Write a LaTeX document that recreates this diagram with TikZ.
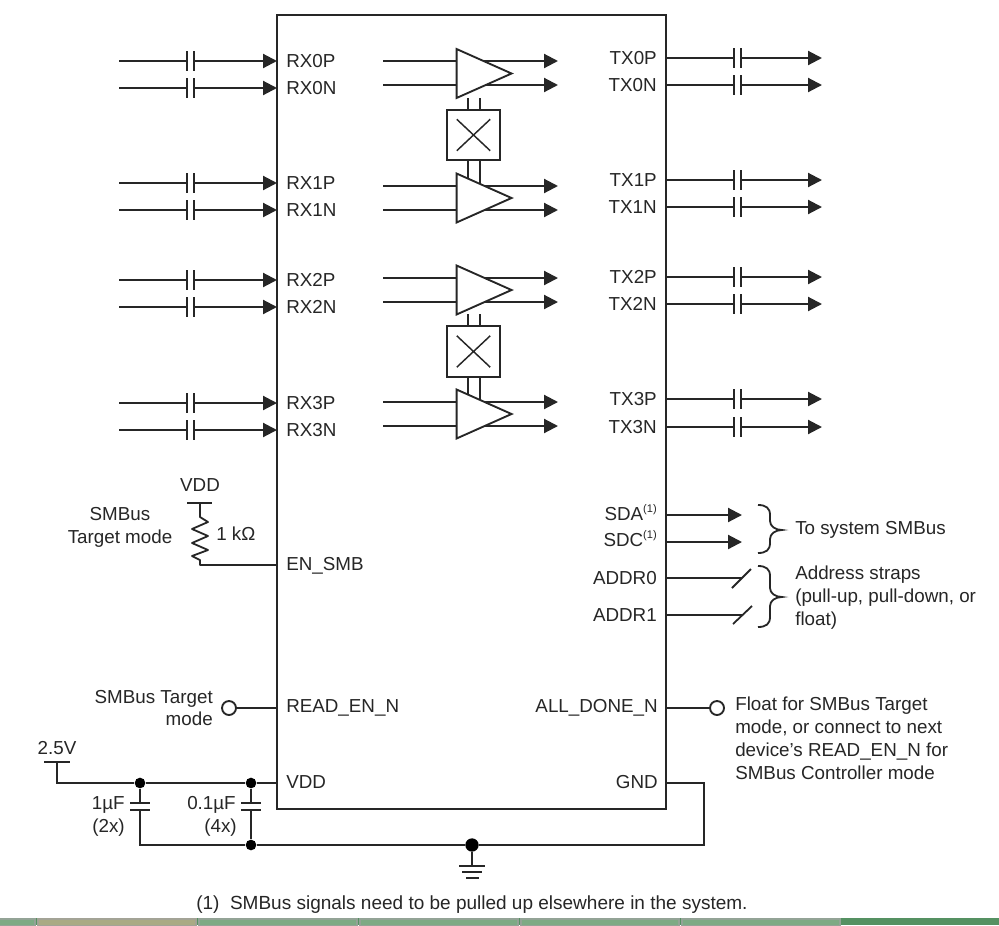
\documentclass[tikz,border=0pt]{standalone}
\usepackage{fontspec}
\setmainfont{Liberation Sans}
\usetikzlibrary{arrows.meta,shapes.geometric,shapes.misc}
\tikzset{
	wire/.style={line width=1.6pt, draw=black!85},
	thinwire/.style={line width=1.35pt, draw=black!85},
	sig/.style={wire, -{Triangle[length=10.5pt,width=10.5pt]}},
	txt/.style={font=\fontsize{14.1}{17.2}\selectfont, text=black!85, inner sep=0pt},
	lbl/.style={txt, anchor=base west},
	rlbl/.style={txt, anchor=base east},
	buffer/.style={isosceles triangle, isosceles triangle stretches, draw=black!85, fill=white, line width=1.4pt, inner sep=0pt, minimum width=36.75pt, minimum height=41.25pt, anchor=apex},
	crossbox/.style={rectangle, draw=black!85, fill=white, line width=1.5pt, inner sep=0pt, minimum width=39.75pt, minimum height=38pt},
	crossmark/.style={cross out, draw=black!85, line width=1.1pt, inner sep=0pt, minimum width=24pt, minimum height=22.5pt},
	dot/.style={circle, fill=black, inner sep=0pt, minimum size=8pt},
	opening/.style={circle, draw=black!85, fill=white, line width=1.4pt, inner sep=0pt, minimum size=10.5pt},
	tab/.style={draw=#1!60!black!60!white, line width=.8pt, fill=#1}
}
\newcommand{\noteref}{\raisebox{5.5pt}{\fontsize{8.3}{9}\selectfont(1)}}
\definecolor{barbase}{RGB}{85,145,98}
\definecolor{tabgreen}{RGB}{125,170,132}
\definecolor{tabsand}{RGB}{170,170,132}
\begin{document}
\begin{tikzpicture}[x=.75pt, y=-.75pt]
	\useasboundingbox (0,0) rectangle (999,925);
	\fill[white] (0,0) rectangle (999,925);
	\fill[barbase] (0,918) rectangle (999,925);
	\draw[tab=tabgreen] (-3,919) rectangle (35,926);
	\draw[tab=tabsand] (38,919) rectangle (196,926);
	\foreach \i/\j in {199/357,360/518,521/679,682/840} {
		\draw[tab=tabgreen] (\i,919) rectangle (\j,926);
	}

	\draw[line width=1.7pt, draw=black!85] (277,15) rectangle (666,809);

	\foreach \lane/\rxp/\rxn/\txp/\txn/\bufy in {0/61/88/58/85/73, 1/183/210/180/207/198, 2/280/307/277/304/290, 3/403/430/399/427/414} {
		\foreach \pol/\ry/\ty/\by/\lab in {P/\rxp/\txp/-12/P, N/\rxn/\txn/12/N} {
			\coordinate (rxs\lane\pol) at (119,\ry);
			\coordinate (rxa\lane\pol) at (187,\ry);
			\coordinate (rxb\lane\pol) at (194,\ry);
			\coordinate (rxe\lane\pol) at (277,\ry);
			\coordinate (txs\lane\pol) at (666,\ty);
			\coordinate (txa\lane\pol) at (734,\ty);
			\coordinate (txb\lane\pol) at (741,\ty);
			\coordinate (txe\lane\pol) at (822,\ty);
			\draw[wire] (rxs\lane\pol) -- (rxa\lane\pol);
			\draw[sig] (rxb\lane\pol) -- (rxe\lane\pol);
			\draw[wire] (txs\lane\pol) -- (txa\lane\pol);
			\draw[sig] (txb\lane\pol) -- (txe\lane\pol);
			\draw[wire] (187,\ry-10) -- (187,\ry+10);
			\draw[wire] (194,\ry-10) -- (194,\ry+10);
			\draw[wire] (734,\ty-10) -- (734,\ty+10);
			\draw[wire] (741,\ty-10) -- (741,\ty+10);
			\node[lbl] (rxl\lane\pol) at (286,\ry+6) {RX\lane\lab};
			\node[rlbl] (txl\lane\pol) at (657,\ty+6) {TX\lane\lab};
			\coordinate (bi\lane\pol) at (383,\bufy+\by);
			\coordinate (bo\lane\pol) at (558,\bufy+\by);
			\draw[sig] (bi\lane\pol) -- (bo\lane\pol);
		}
	}

	\foreach \a/\b in {98/110, 160/173, 314/326, 377/390} {
		\draw[wire] (468,\a) -- (468,\b+22);
		\draw[wire] (480,\a) -- (480,\b+12);
	}
	\foreach \i/\j in {0/73.5, 1/198, 2/290, 3/414} {
		\node[buffer] (buf\i) at (514,\j) {};
	}
	\foreach \i/\j in {0/135, 1/351.5} {
		\node[crossbox] (cross\i) at (473.5,\j) {};
		\node[crossmark] (xmark\i) at (473.5,\j) {};
	}

	\node[txt, anchor=base] (vddtop) at (200,491) {VDD};
	\node[txt, align=center] (smbtarget) at (120,527) {SMBus\\Target mode};
	\node[lbl] (onek) at (216,540) {1 kΩ};
	\coordinate (vddbar) at (200,503);
	\coordinate (enpin) at (277,565);
	\draw[wire] (187,503) -- (212,503);
	\draw[thinwire, line join=round] (vddbar) -- (200,517) -- (208,522) -- (192,529) -- (208,536) -- (192,543) -- (208,550) -- (192,556) -- (200,560) -- (200,565) -- (enpin);
	\node[lbl] (enlab) at (286,570) {EN\_SMB};

	\node[txt, align=right, anchor=east] (rdtext) at (213,708) {SMBus Target\\mode};
	\node[opening] (rdopen) at (229,708) {};
	\coordinate (rdpin) at (277,708);
	\draw[thinwire] (rdopen) -- (rdpin);
	\node[lbl] (rdlab) at (286,712) {READ\_EN\_N};

	\node[txt, anchor=base] (vin) at (57,754) {2.5V};
	\coordinate (vinbar) at (57,762);
	\coordinate (vddpin) at (277,783);
	\node[dot] (ca) at (140,783) {};
	\node[dot] (cb) at (251,783) {};
	\node[dot] (cc) at (251,845) {};
	\node[dot, minimum size=10pt] (gnode) at (472,845) {};
	\coordinate (gndpin) at (666,783);
	\coordinate (cd) at (140,845);
	\draw[wire] (44,762) -- (70,762);
	\draw[wire] (vinbar) -- (57,783) -- (ca) -- (cb) -- (vddpin);
	\draw[wire] (ca) -- (140,803);
	\draw[wire] (130,803) -- (150,803);
	\draw[wire] (130,810) -- (150,810);
	\draw[wire] (140,810) -- (cd) -- (cc) -- (gnode) -- (704,845) -- (704,783) -- (gndpin);
	\draw[wire] (cb) -- (251,803);
	\draw[wire] (241,803) -- (261,803);
	\draw[wire] (241,810) -- (261,810);
	\draw[wire] (251,810) -- (cc);
	\node[rlbl] (cal) at (125,809) {1µF};
	\node[rlbl] (cam) at (125,832) {(2x)};
	\node[rlbl] (cbl) at (236,809) {0.1µF};
	\node[rlbl] (cbm) at (237,832) {(4x)};
	\node[lbl] (vddlab) at (286,788) {VDD};
	\node[rlbl] (gndlab) at (658,788) {GND};
	\draw[wire] (gnode) -- (472,866);
	\draw[wire] (459,866) -- (485,866);
	\draw[wire] (462,872) -- (482,872);
	\draw[wire] (466,878) -- (479,878);

	\node[rlbl] (sdalab) at (657,520) {SDA\noteref};
	\node[rlbl] (sdclab) at (657,546) {SDC\noteref};
	\coordinate (sdapin) at (666,515);
	\coordinate (sdcpin) at (666,542);
	\coordinate (sdaend) at (742,515);
	\coordinate (sdcend) at (742,542);
	\draw[sig] (sdapin) -- (sdaend);
	\draw[sig] (sdcpin) -- (sdcend);
	\node[rlbl] (addra) at (657,584) {ADDR0};
	\node[rlbl] (addrb) at (657,621) {ADDR1};
	\coordinate (addrapin) at (666,578);
	\coordinate (addrbpin) at (666,615);
	\draw[thinwire] (addrapin) -- (742,578);
	\draw[thinwire] (addrbpin) -- (742.5,615);
	\draw[thinwire] (732,588) -- (751,569);
	\draw[thinwire] (733,624) -- (752,606);
	\foreach \t/\m/\b in {505/530/553, 566/597/627} {
		\draw[thinwire] (758,\t) .. controls (766,\t) and (770,\t+3) .. (770,\t+10) -- (770,\m-9) .. controls (770,\m-4) and (775,\m) .. (782,\m) .. controls (775,\m) and (770,\m+4) .. (770,\m+9) -- (770,\b-10) .. controls (770,\b-3) and (766,\b) .. (758,\b);
	}
	\node[txt, anchor=west] (tosys) at (795,530) {To system SMBus};
	\node[txt, align=left, anchor=west] (straps) at (795,598) {Address straps\\(pull-up, pull-down, or\\float)};

	\node[rlbl] (donelab) at (658,712) {ALL\_DONE\_N};
	\node[opening] (doneopen) at (717,708) {};
	\coordinate (donepin) at (666,708);
	\draw[thinwire] (donepin) -- (doneopen);
	\node[txt, align=left, anchor=west] (donetext) at (735,738) {Float for SMBus Target\\mode, or connect to next\\device’s READ\_EN\_N for\\SMBus Controller mode};

	\node[lbl, font=\fontsize{14.25}{17.2}\selectfont] (note) at (196,909) {(1)\ \ SMBus signals need to be pulled up elsewhere in the system.};
\end{tikzpicture}
\end{document}
